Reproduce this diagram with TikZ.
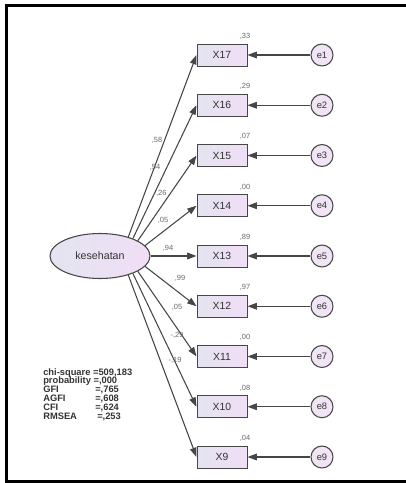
\documentclass[tikz,border=0pt]{standalone}
\usepackage{fontspec}
\setmainfont{Liberation Sans}
\usetikzlibrary{arrows.meta,shapes.geometric}

\definecolor{fillA}{RGB}{228,228,240}
\definecolor{fillB}{RGB}{240,222,246}
\definecolor{fillC}{RGB}{240,228,245}
\definecolor{edge}{RGB}{70,70,70}
\definecolor{lbl}{RGB}{105,105,105}

\tikzset{
  obs/.style={draw=edge,line width=0.75pt,left color=fillA,right color=fillB,
    minimum width=37.5pt,minimum height=16.5pt,inner sep=0pt,
    font=\fontsize{7.8}{8}\selectfont,text=black!80},
  lat/.style={ellipse,draw=edge,line width=0.8pt,left color=fillA,right color=fillB,
    minimum width=75pt,minimum height=33.75pt,inner sep=0pt,
    font=\fontsize{8}{9}\selectfont,text=black!80},
  err/.style={circle,draw=edge,line width=0.8pt,fill=fillC,minimum size=16.5pt,
    inner sep=0pt,font=\fontsize{7}{8}\selectfont,text=black!80},
  loadarrow/.style={draw=edge,line width=0.8pt,-{Triangle[length=7pt,width=5pt]}},
  est/.style={font=\fontsize{5.6}{6}\selectfont,text=lbl,inner sep=0pt},
  stats/.style={font=\bfseries\fontsize{7}{6.6}\selectfont,align=left,
    inner sep=0pt,text=black!80}
}

\begin{document}
\begin{tikzpicture}[x=0.75pt,y=-0.75pt]
\useasboundingbox (0,0) rectangle (406,483);
\draw[line width=2.25pt] (420,5.5) -- (6.5,5.5) -- (6.5,481.5) -- (420,481.5);

\node[lat] (kes) at (100,256) {kesehatan};

\foreach \i/\v/\a/\lx/\ly/\ld/\sq in {1/17/34/157/140/{,58}/{,33},
    2/16/28/155/167/{,54}/{,29}, 3/15/22/160/193/{-,26}/{,07},
    4/14/13/163/220/{,05}/{,00}, 5/13/0/168/248/{,94}/{,89},
    6/12/-13/180/278/{,99}/{,97}, 7/11/-22/177/307/{,05}/{,00},
    8/10/-28/177/335/{-,29}/{,08}, 9/9/-34/175/360/{-,19}/{,04}}
{
  \node[obs] (x\i) at (222,{55+(\i-1)*50.25}) {X\v};
  \node[err] (e\i) at (322,{55+(\i-1)*50.25}) {e\i};
  \node[est,anchor=south east] (r\i) at ([shift={(3,-4)}]x\i.north east) {\sq};
  \node[est] (l\i) at (\lx,\ly) {\ld};
  \draw[loadarrow] (kes.\a) -- (x\i.west);
  \draw[loadarrow] (e\i) -- (x\i);
}

\node[stats,anchor=north west] (fit) at (43,368) {chi-square =509,183\\
  probability =,000\\
  \makebox[39pt][l]{GFI}=,765\\
  \makebox[39pt][l]{AGFI}=,608\\
  \makebox[39pt][l]{CFI}=,624\\
  \makebox[40.5pt][l]{RMSEA}=,253};
\end{tikzpicture}
\end{document}
